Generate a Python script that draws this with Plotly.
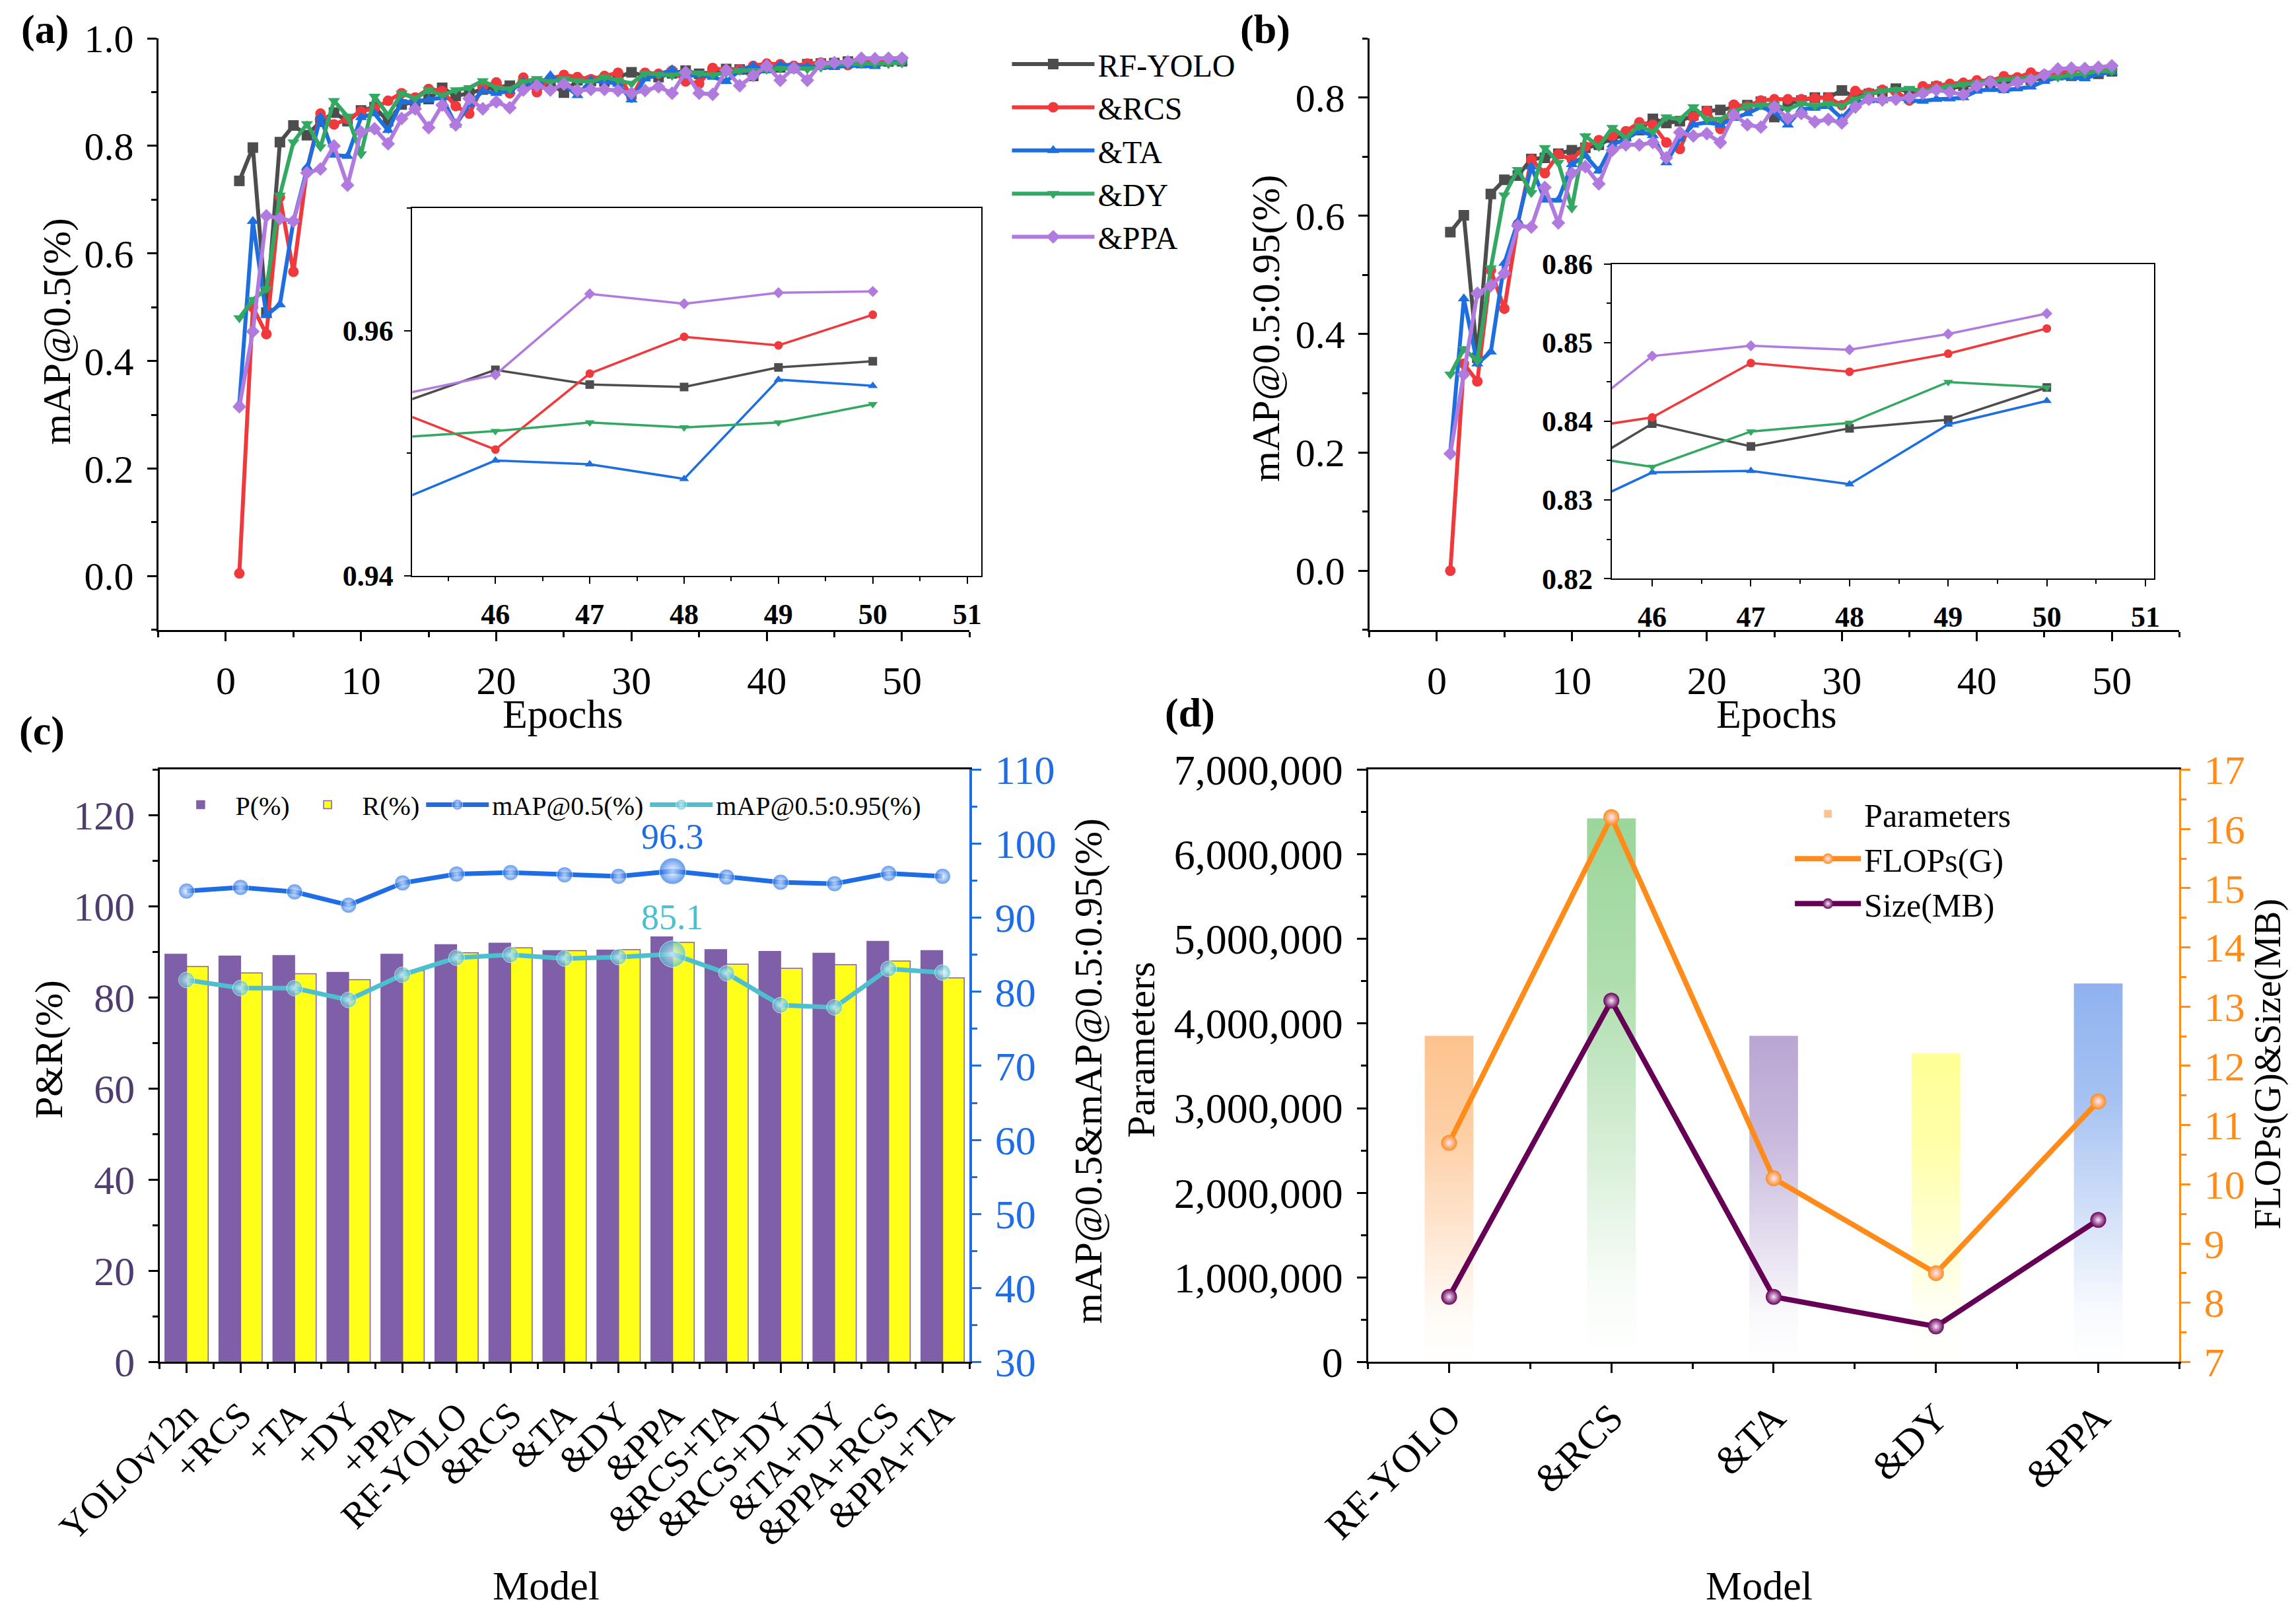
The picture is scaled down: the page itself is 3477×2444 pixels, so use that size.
import plotly.graph_objects as go

FONT = "Liberation Serif"

# ---- (a)/(b) training curves, epochs 1..50 ----
epochs = list(range(1, 51))
series_names = ["RF-YOLO", "&RCS", "&TA", "&DY", "&PPA"]

a_rf = [0.735, 0.797, 0.49, 0.807, 0.838, 0.82, 0.845, 0.862, 0.846, 0.866,
        0.872, 0.846, 0.877, 0.882, 0.887, 0.908, 0.893, 0.898, 0.905, 0.91,
        0.912, 0.913, 0.914, 0.916, 0.899, 0.922, 0.921, 0.92, 0.928, 0.937,
        0.93, 0.928, 0.935, 0.94, 0.934, 0.937, 0.943, 0.942, 0.93, 0.945,
        0.946, 0.945, 0.952, 0.953, 0.9541, 0.9568, 0.9556, 0.9554, 0.9570, 0.9575]
a_rcs = [0.005, 0.50, 0.45, 0.705, 0.566, 0.755, 0.86, 0.84, 0.85, 0.864,
         0.87, 0.884, 0.898, 0.89, 0.906, 0.902, 0.874, 0.86, 0.91, 0.918,
         0.898, 0.927, 0.90, 0.925, 0.932, 0.928, 0.924, 0.93, 0.936, 0.89,
         0.936, 0.934, 0.94, 0.92, 0.916, 0.945, 0.941, 0.942, 0.949, 0.953,
         0.952, 0.949, 0.953, 0.955, 0.9533, 0.9503, 0.9565, 0.9595, 0.9588, 0.9613]
a_ta = [0.32, 0.66, 0.485, 0.505, 0.66, 0.76, 0.853, 0.783, 0.781, 0.853,
        0.86, 0.829, 0.882, 0.882, 0.886, 0.89, 0.839, 0.877, 0.902, 0.898,
        0.902, 0.919, 0.91, 0.931, 0.914, 0.894, 0.922, 0.92, 0.915, 0.886,
        0.925, 0.932, 0.942, 0.93, 0.932, 0.928, 0.92, 0.94, 0.949, 0.94,
        0.951, 0.949, 0.947, 0.946, 0.9462, 0.9494, 0.9491, 0.9479, 0.9560, 0.9555]
a_dy = [0.48, 0.514, 0.534, 0.708, 0.807, 0.841, 0.798, 0.884, 0.855, 0.785,
        0.892, 0.857, 0.898, 0.888, 0.904, 0.894, 0.904, 0.908, 0.921, 0.908,
        0.906, 0.919, 0.925, 0.919, 0.925, 0.921, 0.919, 0.928, 0.922, 0.916,
        0.935, 0.933, 0.931, 0.937, 0.935, 0.932, 0.936, 0.94, 0.94, 0.942,
        0.944, 0.945, 0.943, 0.946, 0.9513, 0.9518, 0.9525, 0.9521, 0.9525, 0.9540]
a_ppa = [0.315, 0.455, 0.67, 0.665, 0.66, 0.75, 0.757, 0.80, 0.727, 0.826,
         0.832, 0.804, 0.851, 0.869, 0.834, 0.876, 0.839, 0.888, 0.869, 0.882,
         0.871, 0.904, 0.912, 0.904, 0.915, 0.903, 0.905, 0.905, 0.903, 0.898,
         0.903, 0.91, 0.898, 0.937, 0.898, 0.896, 0.941, 0.912, 0.931, 0.949,
         0.922, 0.945, 0.922, 0.953, 0.9548, 0.9564, 0.9630, 0.9622, 0.9631, 0.9632]

b_rf = [0.5725, 0.601, 0.36, 0.637, 0.661, 0.668, 0.696, 0.698, 0.705, 0.711,
        0.715, 0.72, 0.732, 0.735, 0.745, 0.764, 0.757, 0.76, 0.77, 0.777,
        0.779, 0.783, 0.787, 0.793, 0.767, 0.79, 0.795, 0.80, 0.80, 0.812,
        0.80, 0.806, 0.81, 0.815, 0.81, 0.812, 0.818, 0.815, 0.82, 0.822,
        0.824, 0.826, 0.83, 0.83, 0.8322, 0.8397, 0.8368, 0.8391, 0.8402, 0.8443]
b_rcs = [0.0, 0.35, 0.32, 0.508, 0.443, 0.586, 0.695, 0.672, 0.704, 0.695,
         0.717, 0.728, 0.735, 0.743, 0.758, 0.754, 0.724, 0.713, 0.767, 0.777,
         0.747, 0.788, 0.785, 0.795, 0.797, 0.797, 0.797, 0.799, 0.80, 0.787,
         0.811, 0.808, 0.813, 0.81, 0.795, 0.819, 0.82, 0.823, 0.825, 0.829,
         0.828, 0.836, 0.834, 0.842, 0.8386, 0.8405, 0.8474, 0.8463, 0.8486, 0.8518]
b_ta = [0.20, 0.46, 0.35, 0.37, 0.52, 0.59, 0.683, 0.627, 0.627, 0.687,
        0.702, 0.676, 0.72, 0.73, 0.743, 0.736, 0.69, 0.73, 0.754, 0.758,
        0.754, 0.765, 0.773, 0.784, 0.775, 0.754, 0.78, 0.782, 0.785, 0.765,
        0.79, 0.795, 0.795, 0.80, 0.795, 0.794, 0.797, 0.798, 0.80, 0.811,
        0.814, 0.812, 0.815, 0.818, 0.8276, 0.8335, 0.8337, 0.8320, 0.8396, 0.8426]
b_dy = [0.332, 0.375, 0.355, 0.512, 0.635, 0.678, 0.639, 0.715, 0.69, 0.613,
        0.735, 0.717, 0.749, 0.732, 0.752, 0.742, 0.767, 0.763, 0.784, 0.763,
        0.763, 0.776, 0.786, 0.787, 0.788, 0.78, 0.79, 0.786, 0.79, 0.786,
        0.797, 0.806, 0.811, 0.813, 0.815, 0.811, 0.816, 0.819, 0.822, 0.825,
        0.827, 0.83, 0.831, 0.834, 0.8361, 0.8342, 0.8387, 0.8398, 0.8450, 0.8443]
b_ppa = [0.198, 0.332, 0.469, 0.482, 0.503, 0.583, 0.581, 0.648, 0.588, 0.672,
         0.683, 0.654, 0.711, 0.72, 0.72, 0.724, 0.698, 0.741, 0.735, 0.739,
         0.724, 0.771, 0.754, 0.75, 0.784, 0.765, 0.773, 0.759, 0.763, 0.757,
         0.784, 0.797, 0.796, 0.797, 0.80, 0.807, 0.813, 0.809, 0.805, 0.82,
         0.826, 0.817, 0.826, 0.83, 0.8383, 0.8483, 0.8496, 0.8491, 0.8511, 0.8537]

# ---- (c) ablation bars + lines ----
models = ["YOLOv12n", "+RCS", "+TA", "+DY", "+PPA", "RF-YOLO", "&RCS", "&TA",
          "&DY", "&PPA", "&RCS+TA", "&RCS+DY", "&TA+DY", "&PPA+RCS", "&PPA+TA"]
prec = [89.5, 89.1, 89.2, 85.5, 89.5, 91.6, 91.9, 90.3, 90.4, 93.3, 90.5, 90.1, 89.7, 92.3, 90.3]
recall = [86.8, 85.4, 85.2, 83.9, 85.9, 89.8, 90.9, 90.3, 90.5, 92.1, 87.3, 86.4, 87.2, 88.0, 84.3]
map50 = [93.6, 94.1, 93.5, 91.7, 94.7, 95.9, 96.1, 95.8, 95.6, 96.3, 95.5, 94.8, 94.6, 96.0, 95.6]
map5095 = [81.6, 80.5, 80.5, 78.9, 82.3, 84.6, 85.0, 84.5, 84.7, 85.1, 82.5, 78.2, 77.9, 83.1, 82.6]

# ---- (d) model complexity ----
d_models = ["RF-YOLO", "&RCS", "&TA", "&DY", "&PPA"]
params = [3854000, 6424000, 3854000, 3650000, 4473000]
flops = [10.7, 16.2, 10.1, 8.5, 11.4]
size_mb = [8.1, 13.1, 8.1, 7.6, 9.4]

colors = ["#4d4d4d", "#f0393c", "#1d6fe0", "#33a862", "#b07ade"]
symbols = ["square", "circle", "triangle-up", "triangle-down", "diamond"]
bar_colors = ["#fdc38e", "#9bd69a", "#b9a6d3", "#ffff96", "#8fb2ef"]


def rgba(hexcol, a):
    h = hexcol.lstrip("#")
    r, g, b = int(h[0:2], 16), int(h[2:4], 16), int(h[4:6], 16)
    return f"rgba({r},{g},{b},{a})"


fig = go.Figure()


def add_curves(data, xa, ya, xi, yi, legend):
    for name, vals, c, s in zip(series_names, data, colors, symbols):
        fig.add_trace(go.Scatter(
            x=epochs, y=vals, name=name, mode="lines+markers",
            line=dict(color=c, width=6), marker=dict(symbol=s, size=16, color=c),
            xaxis=xa, yaxis=ya, showlegend=legend, legend="legend"))
    for name, vals, c, s in zip(series_names, data, colors, symbols):
        fig.add_trace(go.Scatter(
            x=epochs, y=vals, name=name, mode="lines+markers",
            line=dict(color=c, width=3.5), marker=dict(symbol=s, size=13, color=c),
            xaxis=xi, yaxis=yi, showlegend=False))


add_curves([a_rf, a_rcs, a_ta, a_dy, a_ppa], "x", "y", "x2", "y2", True)
add_curves([b_rf, b_rcs, b_ta, b_dy, b_ppa], "x3", "y3", "x4", "y4", False)

# (c)
xc = list(range(len(models)))
fig.add_trace(go.Bar(x=xc, y=prec, name="P(%)", marker=dict(color="#7f5fa8", line=dict(color="#7f5fa8", width=1.5)),
                     xaxis="x5", yaxis="y5", legend="legend2"))
fig.add_trace(go.Bar(x=xc, y=recall, name="R(%)", marker=dict(color="#ffff1a", line=dict(color="#7f5fa8", width=1.5)),
                     xaxis="x5", yaxis="y5", legend="legend2"))
best50 = map50.index(max(map50))
best95 = map5095.index(max(map5095))
for vals, name, c, best in [(map50, "mAP@0.5(%)", "#1f6de4", best50),
                            (map5095, "mAP@0.5:0.95(%)", "#4dbfcf", best95)]:
    sizes = [24] * len(vals)
    sizes[best] = 40
    fig.add_trace(go.Scatter(
        x=xc, y=vals, name=name, mode="lines+markers",
        line=dict(color=c, width=7),
        marker=dict(size=sizes, color=c, gradient=dict(type="radial", color="#eef6ff")),
        xaxis="x5", yaxis="y6", legend="legend2"))

# (d)
xd = list(range(len(d_models)))
half = 0.15
for i, (v, c) in enumerate(zip(params, bar_colors)):
    fig.add_trace(go.Scatter(
        x=[i - half, i - half, i + half, i + half, i - half], y=[0, v, v, 0, 0],
        fill="toself", mode="none", name="Parameters",
        fillgradient=dict(type="vertical",
                          colorscale=[[0, rgba(c, 0)], [0.15, rgba(c, 0.08)], [0.7, rgba(c, 0.8)], [1, rgba(c, 1)]]),
        xaxis="x6", yaxis="y7", showlegend=False, hoverinfo="skip"))
# legend swatch for the gradient bars
fig.add_trace(go.Bar(x=[None], y=[None], name="Parameters", marker=dict(color=bar_colors[0]),
                     xaxis="x6", yaxis="y7", legend="legend3"))
for vals, name, c in [(flops, "FLOPs(G)", "#ff8c1a"), (size_mb, "Size(MB)", "#660055")]:
    fig.add_trace(go.Scatter(
        x=xd, y=vals, name=name, mode="lines+markers",
        line=dict(color=c, width=8),
        marker=dict(size=24, color=c, gradient=dict(type="radial", color="#fbe6ff")),
        xaxis="x6", yaxis="y8", legend="legend3"))

tick_font = dict(family=FONT, size=60, color="black")
inset_font = dict(family=FONT, size=44, color="black", weight="bold")


def ax(**kw):
    base = dict(showline=True, linecolor="black", linewidth=3, ticks="outside", ticklen=14,
                tickwidth=3, tickcolor="black", showgrid=False, zeroline=False,
                automargin=False, tickfont=tick_font, ticklabelstandoff=8)
    base.update(kw)
    return base


minor_main = lambda d: dict(dtick=d, ticks="outside", ticklen=8, tickwidth=3, tickcolor="black")

fig.update_layout(
    width=3477, height=2444, margin=dict(l=0, r=0, t=0, b=0),
    paper_bgcolor="white", plot_bgcolor="white",
    barmode="group", bargap=0.2, bargroupgap=0,
    # (a)
    xaxis=ax(domain=[0.0666, 0.420], anchor="y", range=[-5, 55], tick0=0, dtick=10, minor=minor_main(5)),
    yaxis=ax(domain=[0.613, 0.9795], anchor="x", range=[-0.1, 1.0], tick0=0, dtick=0.2,
             tickformat=".1f", minor=minor_main(0.1)),
    xaxis2=ax(domain=[0.1773, 0.4251], anchor="y2", range=[45.12, 51.15], dtick=1, mirror=True,
              linewidth=2, ticklen=10, tickwidth=2, tickfont=inset_font,
              minor=dict(dtick=0.5, ticks="outside", ticklen=6, tickwidth=2, tickcolor="black")),
    yaxis2=ax(domain=[0.6466, 0.8743], anchor="x2", range=[0.94, 0.97], tick0=0.94, dtick=0.02,
              tickformat=".2f", mirror=True, linewidth=2, ticklen=10, tickwidth=2, tickfont=inset_font,
              minor=dict(dtick=0.01, ticks="outside", ticklen=6, tickwidth=2, tickcolor="black")),
    # (b)
    xaxis3=ax(domain=[0.5941, 0.9469], anchor="y3", range=[-5, 55], tick0=0, dtick=10, minor=minor_main(5)),
    yaxis3=ax(domain=[0.613, 0.9795], anchor="x3", range=[-0.1, 0.9], tick0=0, dtick=0.2,
              tickformat=".1f", minor=minor_main(0.1)),
    xaxis4=ax(domain=[0.6997, 0.9360], anchor="y4", range=[45.59, 51.09], dtick=1, mirror=True,
              linewidth=2, ticklen=10, tickwidth=2, tickfont=inset_font,
              minor=dict(dtick=0.5, ticks="outside", ticklen=6, tickwidth=2, tickcolor="black")),
    yaxis4=ax(domain=[0.6448, 0.8397], anchor="x4", range=[0.82, 0.86], tick0=0.82, dtick=0.01,
              tickformat=".2f", mirror=True, linewidth=2, ticklen=10, tickwidth=2, tickfont=inset_font,
              minor=dict(dtick=0.005, ticks="outside", ticklen=6, tickwidth=2, tickcolor="black")),
    # (c)
    xaxis5=ax(domain=[0.0672, 0.420], anchor="y5", range=[-0.5, len(models) - 0.5], tickmode="array",
              tickvals=xc, ticktext=models, tickangle=-45, mirror=True,
              tickfont=dict(family=FONT, size=56, color="black"),
              minor=dict(tick0=0.5, dtick=1, ticks="outside", ticklen=8, tickwidth=3, tickcolor="black")),
    yaxis5=ax(domain=[0.1594, 0.5264], anchor="x5", range=[0, 130], dtick=20,
              tickfont=dict(family=FONT, size=62, color="#4e3d6e"), minor=minor_main(10)),
    yaxis6=ax(overlaying="y5", side="right", anchor="x5", range=[30, 110], dtick=10,
              linecolor="#1f6de4", linewidth=4, tickcolor="#1f6de4",
              tickfont=dict(family=FONT, size=62, color="#1f6de4"),
              minor=dict(dtick=5, ticks="outside", ticklen=8, tickwidth=3, tickcolor="#1f6de4")),
    # (d)
    xaxis6=ax(domain=[0.5935, 0.9469], anchor="y7", range=[-0.5, len(d_models) - 0.5], tickmode="array",
              tickvals=xd, ticktext=d_models, tickangle=-45, mirror=True,
              tickfont=dict(family=FONT, size=60, color="black"),
              minor=dict(tick0=0.5, dtick=1, ticks="outside", ticklen=8, tickwidth=3, tickcolor="black")),
    yaxis7=ax(domain=[0.1594, 0.5264], anchor="x6", range=[0, 7000000], dtick=1000000,
              tickformat=",d", tickfont=dict(family=FONT, size=64, color="black"), minor=minor_main(500000)),
    yaxis8=ax(overlaying="y7", side="right", anchor="x6", range=[7, 17], dtick=1,
              linecolor="#ff8c1a", linewidth=3, tickcolor="#ff8c1a",
              tickfont=dict(family=FONT, size=62, color="#ff8c1a"),
              minor=dict(dtick=0.5, ticks="outside", ticklen=8, tickwidth=3, tickcolor="#ff8c1a")),
    legend=dict(x=0.437, y=0.979, xanchor="left", yanchor="top", bgcolor="rgba(0,0,0,0)",
                font=dict(family=FONT, size=48, color="black"), itemwidth=125, tracegroupgap=0),
    legend2=dict(orientation="h", x=0.070, y=0.518, xanchor="left", yanchor="top", bgcolor="rgba(0,0,0,0)",
                 font=dict(family=FONT, size=40, color="black"), itemwidth=95),
    legend3=dict(x=0.778, y=0.515, xanchor="left", yanchor="top", bgcolor="rgba(0,0,0,0)",
                 font=dict(family=FONT, size=50, color="black"), itemwidth=100),
)


def note(text, x, y, size=62, angle=0, color="black", weight="normal"):
    fig.add_annotation(text=text, x=x, y=y, xref="paper", yref="paper", showarrow=False,
                       textangle=angle, font=dict(family=FONT, size=size, color=color, weight=weight),
                       xanchor="center", yanchor="middle")


note("(a)", 0.0173, 0.985, 62, weight="bold")
note("(b)", 0.5487, 0.985, 62, weight="bold")
note("(c)", 0.0160, 0.5506, 62, weight="bold")
note("(d)", 0.5160, 0.5616, 62, weight="bold")
note("Epochs", 0.243, 0.561)
note("Epochs", 0.7715, 0.561)
note("Model", 0.2356, 0.021)
note("Model", 0.7638, 0.021)
note("mAP@0.5(%)", 0.0224, 0.798, 60, angle=-90)
note("mAP@0.5:0.95(%)", 0.549, 0.80, 60, angle=-90)
note("P&R(%)", 0.0192, 0.353, 60, angle=-90)
note("mAP@0.5&mAP@0.5:0.95(%)", 0.4718, 0.340, 60, angle=-90)
note("Parameters", 0.4949, 0.353, 60, angle=-90)
note("FLOPs(G)&Size(MB)", 0.9855, 0.344, 56, angle=-90)

for vals, best, c, shift in [(map50, best50, "#1f6de4", 52), (map5095, best95, "#4dbfcf", 56)]:
    fig.add_annotation(text=f"{vals[best]:.1f}", x=xc[best], y=vals[best], xref="x5", yref="y6",
                       showarrow=False, yshift=shift, font=dict(family=FONT, size=54, color=c))

fig.write_html("out.html")
